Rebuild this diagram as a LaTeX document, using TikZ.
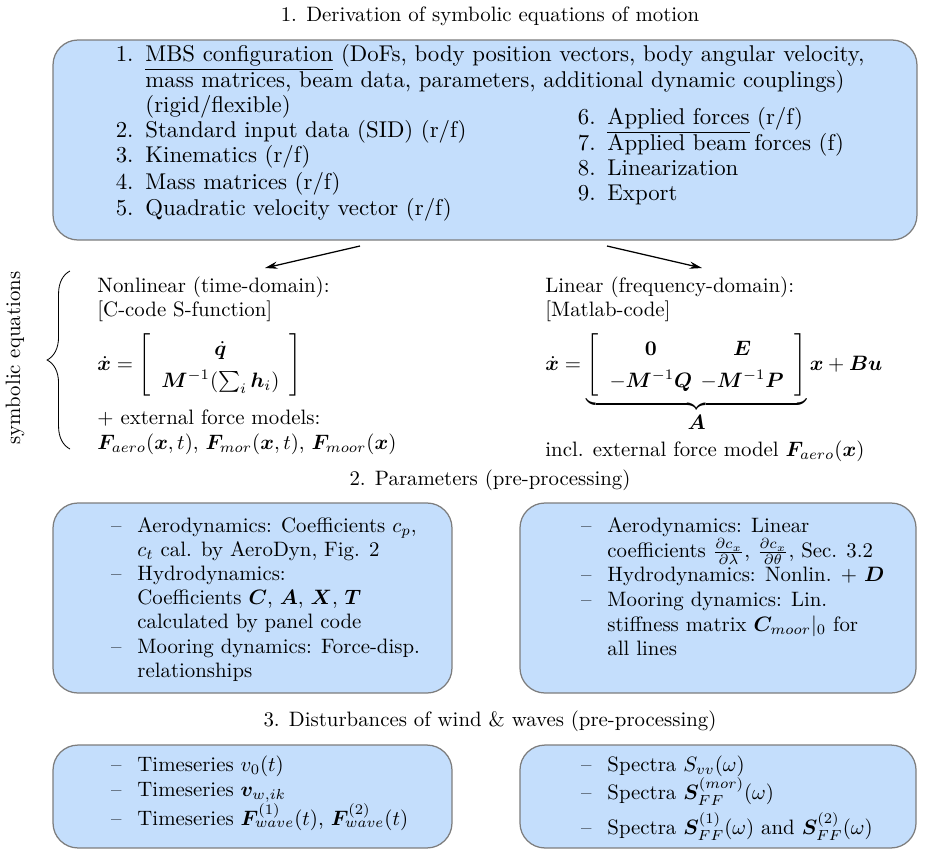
\documentclass[tikz,border=0pt]{standalone}
\usepackage{amsmath,amssymb,bm}
\usetikzlibrary{arrows.meta,decorations.pathreplacing}
\definecolor{boxfill}{RGB}{196,222,252}
\definecolor{boxline}{RGB}{125,125,125}
\begin{document}
\begin{tikzpicture}[x=0.48pt,y=-0.48pt,
  panel/.style={draw=boxline,fill=boxfill,line width=0.6pt,rounded corners=12pt,inner sep=0pt},
  txt/.style={inner sep=0pt,anchor=mid west},
  num/.style={inner sep=0pt,anchor=mid east},
  ttl/.style={inner sep=0pt,anchor=mid},
  bigf/.style={font=\fontsize{10.95}{13.6}\selectfont},
  arr/.style={-{Stealth[length=6pt,width=3.5pt]},line width=0.6pt}]
\useasboundingbox (0,0) rectangle (934,852);

% ---- section 1
\node[ttl] (t1) at (490,17) {1. Derivation of symbolic equations of motion};
\node[panel,minimum width=414.7pt,minimum height=96pt] (box1) at (485,140) {};

\begin{scope}[every node/.append style={bigf}]
\node[num] (n1) at (134,57) {1.};
\node[txt] (l1a) at (145,57) {\underline{MBS configuration} (DoFs, body position vectors, body angular velocity,};
\node[txt] (l1b) at (145,83) {mass matrices, beam data, parameters, additional dynamic couplings)};
\node[txt] (l1c) at (145,108) {(rigid/flexible)};
\node[num] (n2) at (134,133) {2.};
\node[txt] (l2) at (145,133) {Standard input data (SID) (r/f)};
\node[num] (n3) at (134,158) {3.};
\node[txt] (l3) at (145,158) {Kinematics (r/f)};
\node[num] (n4) at (134,185) {4.};
\node[txt] (l4) at (145,185) {Mass matrices (r/f)};
\node[num] (n5) at (134,211) {5.};
\node[txt] (l5) at (145,211) {Quadratic velocity vector (r/f)};

\node[num] (n6) at (596,120) {6.};
\node[txt] (l6) at (607,120) {\underline{Applied forces} (r/f)};
\node[num] (n7) at (596,146) {7.};
\node[txt] (l7) at (607,146) {Applied beam forces (f)};
\node[num] (n8) at (596,171) {8.};
\node[txt] (l8) at (607,171) {Linearization};
\node[num] (n9) at (596,196) {9.};
\node[txt] (l9) at (607,196) {Export};
\end{scope}

% ---- symbolic equations
\node[inner sep=0pt,rotate=90] (sym) at (15,358) {symbolic equations};
\draw[decorate,decoration={brace,amplitude=11pt}] (70,449) -- (70,271);

\node[txt] (nl1) at (97,288) {Nonlinear (time-domain):};
\node[txt] (nl2) at (97,312) {[C-code S-function]};
\node[txt] (nleq) at (97,366) {$\displaystyle \renewcommand{\arraystretch}{1.25}\dot{\bm x} = \left[\begin{array}{c} \dot{\bm q} \\ \bm M^{-1}(\sum_i \bm h_i) \end{array}\right]$};
\node[txt] (nl3) at (97,420) {$+$ external force models:};
\node[txt] (nl4) at (97,445) {$\bm F_{aero}(\bm x,t)$, $\bm F_{mor}(\bm x,t)$, $\bm F_{moor}(\bm x)$};

\node[txt] (li1) at (545,288) {Linear (frequency-domain):};
\node[txt] (li2) at (545,312) {[Matlab-code]};
\node[txt] (lieq) at (545,366) {$\displaystyle \renewcommand{\arraystretch}{1.25}\dot{\bm x} = \underbrace{\left[\begin{array}{c@{\hspace{4pt}}c} \bm 0 & \bm E \\ -\bm M^{-1}\bm Q & -\bm M^{-1}\bm P \end{array}\right]}_{\textstyle\bm A} \bm x + \bm B\bm u$};
\node[txt] (li3) at (545,452) {incl. external force model $\bm F_{aero}(\bm x)$};

\coordinate (a1) at (360,246);
\coordinate (a2) at (607,246);
\draw[arr] (a1) -- (265,268) coordinate (a1e);
\draw[arr] (a2) -- (702,268) coordinate (a2e);

% ---- section 2
\node[ttl] (t2) at (490,481) {2. Parameters (pre-processing)};
\node[panel,minimum width=191.5pt,minimum height=91.2pt] (box2l) at (252.5,598) {};
\node[panel,minimum width=190.1pt,minimum height=91.2pt] (box2r) at (718,598) {};

\node[num] (d1) at (122,528) {--};
\node[txt] (p1a) at (137,528) {Aerodynamics: Coefficients $c_p$,};
\node[txt] (p1b) at (137,552) {$c_t$ cal. by AeroDyn, Fig. 2};
\node[num] (d2) at (122,576) {--};
\node[txt] (p2a) at (137,576) {Hydrodynamics:};
\node[txt] (p2b) at (137,600) {Coefficients $\bm C$, $\bm A$, $\bm X$, $\bm T$};
\node[txt] (p2c) at (137,624) {calculated by panel code};
\node[num] (d3) at (122,649) {--};
\node[txt] (p3a) at (137,649) {Mooring dynamics: Force-disp.};
\node[txt] (p3b) at (137,673) {relationships};

\node[num] (e1) at (592,528) {--};
\node[txt] (q1a) at (607,528) {Aerodynamics: Linear};
\node[txt] (q1b) at (607,553) {coefficients $\frac{\partial c_x}{\partial\lambda}$, $\frac{\partial c_x}{\partial\theta}$, Sec. 3.2};
\node[num] (e2) at (592,577) {--};
\node[txt] (q2) at (607,577) {Hydrodynamics: Nonlin. $+$ $\bm D$};
\node[num] (e3) at (592,602) {--};
\node[txt] (q3a) at (607,602) {Mooring dynamics: Lin.};
\node[txt] (q3b) at (607,627) {stiffness matrix $\bm C_{moor}|_0$ for};
\node[txt] (q3c) at (607,651) {all lines};

% ---- section 3
\node[ttl] (t3) at (490,722) {3. Disturbances of wind \& waves (pre-processing)};
\node[panel,minimum width=191.5pt,minimum height=49.4pt] (box3l) at (252.5,796.5) {};
\node[panel,minimum width=190.1pt,minimum height=49.4pt] (box3r) at (718,796.5) {};

\node[num] (f1) at (122,767) {--};
\node[txt] (r1) at (137,767) {Timeseries $v_0(t)$};
\node[num] (f2) at (122,792) {--};
\node[txt] (r2) at (137,792) {Timeseries $\bm v_{w,ik}$};
\node[num] (f3) at (122,821) {--};
\node[txt] (r3) at (137,821) {Timeseries $\bm F^{(1)}_{wave}(t)$, $\bm F^{(2)}_{wave}(t)$};

\node[num] (g1) at (592,767) {--};
\node[txt] (s1) at (607,767) {Spectra $S_{vv}(\omega)$};
\node[num] (g2) at (592,795) {--};
\node[txt] (s2) at (607,795) {Spectra $\bm S^{(mor)}_{FF}(\omega)$};
\node[num] (g3) at (592,830) {--};
\node[txt] (s3) at (607,830) {Spectra $\bm S^{(1)}_{FF}(\omega)$ and $\bm S^{(2)}_{FF}(\omega)$};
\end{tikzpicture}
\end{document}
